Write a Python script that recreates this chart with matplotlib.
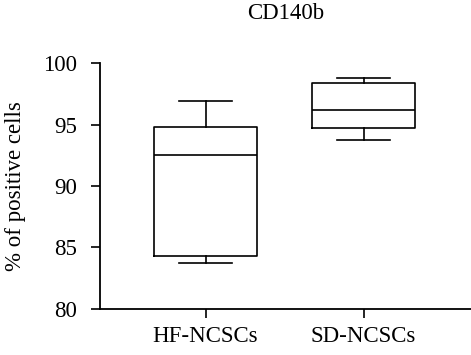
import matplotlib
matplotlib.use("Agg")
import matplotlib.pyplot as plt

# values (whisker low, Q1, median, Q3, whisker high)
groups = ["HF-NCSCs", "SD-NCSCs"]
whislo = [83.7, 93.7]
q1 = [84.3, 94.7]
med = [92.5, 96.2]
q3 = [94.8, 98.4]
whishi = [96.9, 98.8]
yticks = [80, 85, 90, 95, 100]

plt.rcParams["font.family"] = ["Liberation Serif", "DejaVu Serif"]

stats = []
for i, name in enumerate(groups):
    stats.append({
        "label": name, "whislo": whislo[i], "q1": q1[i], "med": med[i],
        "q3": q3[i], "whishi": whishi[i], "fliers": [],
    })

fig = plt.figure(figsize=(4.71, 3.55), dpi=100)
ax = fig.add_axes([0.2123, 0.1296, 0.7877, 0.6929])

lw = 1.2
ax.bxp(stats, positions=[1, 2], widths=0.65, showfliers=False,
       boxprops=dict(color="black", linewidth=lw),
       medianprops=dict(color="black", linewidth=lw),
       whiskerprops=dict(color="black", linewidth=lw),
       capprops=dict(color="black", linewidth=lw),
       capwidths=0.33)

ax.set_xlim(0.332, 2.68)
ax.set_ylim(80, 100)
ax.set_yticks(yticks)
ax.set_xticks([1, 2])
ax.set_xticklabels(groups)

for side in ["top", "right"]:
    ax.spines[side].set_visible(False)
for side in ["left", "bottom"]:
    ax.spines[side].set_linewidth(1.3)

fs = 16.5
ax.tick_params(axis="both", direction="out", length=6.5, width=1.2,
               labelsize=fs, colors="black")
ax.tick_params(axis="y", pad=10)
ax.tick_params(axis="x", pad=6)
ax.set_ylabel("% of positive cells", fontsize=fs, labelpad=12)
ax.set_title("CD140b", fontsize=fs, pad=32)

fig.savefig("out.png", dpi=100)
